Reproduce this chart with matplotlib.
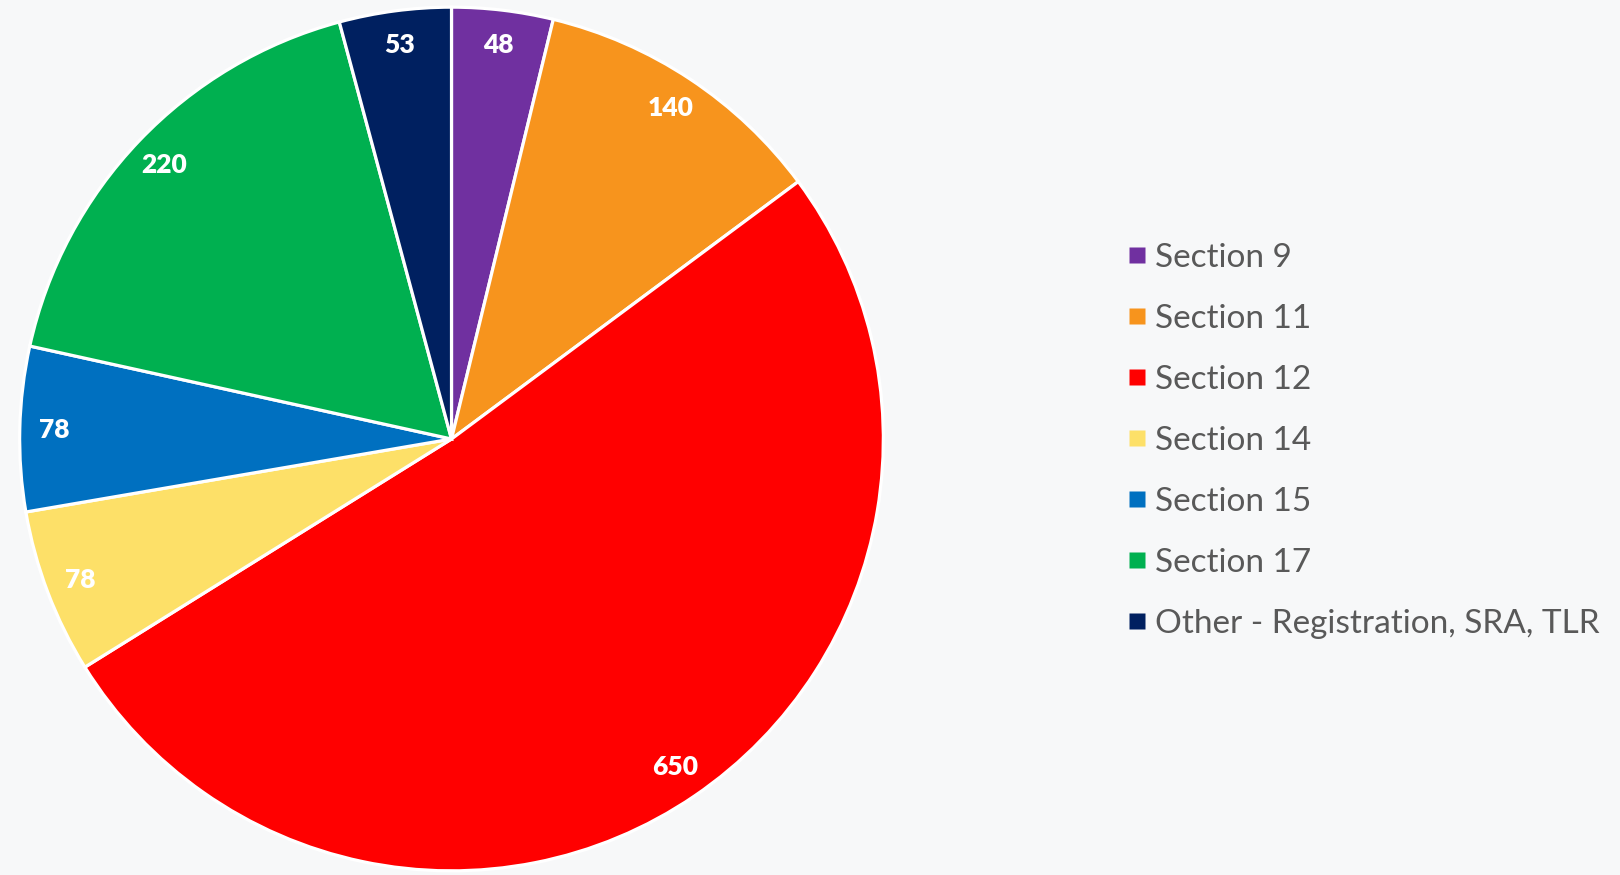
import matplotlib.pyplot as plt
from matplotlib.lines import Line2D

sections = ["Section 9", "Section 11", "Section 12", "Section 14",
            "Section 15", "Section 17", "Other - Registration, SRA, TLR"]
counts = [48, 140, 650, 78, 78, 220, 53]
colors = ["#7030A0", "#F7941D", "#FF0000", "#FDE068",
          "#0070C0", "#00B050", "#002060"]

plt.rcParams['font.family'] = ['Lato', 'DejaVu Sans']

fig = plt.figure(figsize=(16.2, 8.75), dpi=100)
fig.patch.set_facecolor("#f7f8f9")

# square axes for the pie, centred near the left
ax = fig.add_axes([17.5 / 1620, 2 / 875, 868 / 1620, 868 / 875])
ax.set_facecolor("none")
wedges, texts, autotexts = ax.pie(
    counts, colors=colors, startangle=90, counterclock=False,
    autopct=lambda p: f"{round(p * sum(counts) / 100):.0f}",
    pctdistance=0.92,
    wedgeprops=dict(edgecolor="white", linewidth=2.3),
    textprops=dict(color="white", fontsize=19, fontweight="heavy"))
ax.set_xlim(-1.005, 1.005)
ax.set_ylim(-1.005, 1.005)
ax.axis("off")

handles = [Line2D([], [], marker="s", linestyle="none", markersize=11,
                  markerfacecolor=c, markeredgecolor="none") for c in colors]
fig.legend(handles, sections, loc="upper left",
           bbox_to_anchor=(1106 / 1620, 1 - 226 / 875),
           frameon=False, fontsize=24, labelcolor="#595959",
           handletextpad=0.12, labelspacing=0.93, borderpad=0,
           handlelength=0.85)

fig.savefig("out.png", dpi=100, facecolor=fig.get_facecolor())
